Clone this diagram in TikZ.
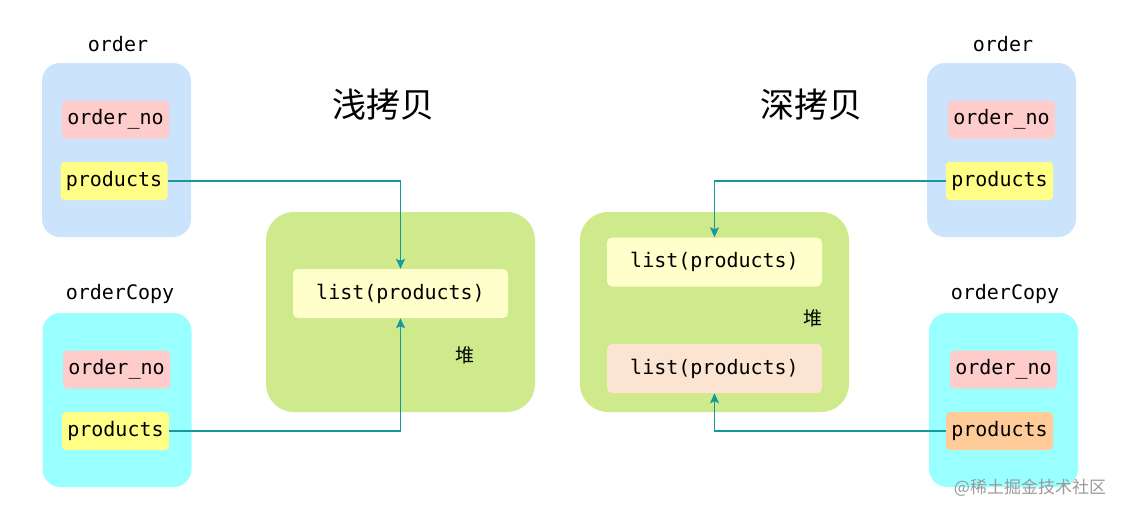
\documentclass[tikz,border=0pt]{standalone}
\usepackage{fontspec}
\setmonofont{DejaVu Sans Mono}
\newfontfamily\cjk{Noto Sans CJK SC}
\usetikzlibrary{arrows.meta}

\definecolor{objblue}{HTML}{CCE4FB}
\definecolor{objcyan}{HTML}{99FFFF}
\definecolor{fieldpink}{HTML}{FFCCCC}
\definecolor{fieldyellow}{HTML}{FFFF88}
\definecolor{fieldorange}{HTML}{FFCC99}
\definecolor{heapgreen}{HTML}{CFE98D}
\definecolor{listyellow}{HTML}{FFFFCC}
\definecolor{listpeach}{HTML}{FCE4D2}
\definecolor{reflink}{HTML}{17999A}

\tikzset{
  objbox/.style={rounded corners=18pt, minimum width=149pt, minimum height=174pt, inner sep=0pt},
  heapbox/.style={fill=heapgreen, rounded corners=28pt, minimum width=269pt, minimum height=200pt, inner sep=0pt},
  field/.style={rounded corners=4pt, minimum width=107pt, minimum height=38pt, inner sep=0pt,
    font=\ttfamily\fontsize{20}{24}\selectfont},
  listbox/.style={rounded corners=5pt, minimum width=215pt, minimum height=49pt, inner sep=0pt,
    font=\ttfamily\fontsize{20}{24}\selectfont},
  objname/.style={font=\ttfamily\fontsize{20}{24}\selectfont},
  title/.style={font=\cjk\fontsize{34}{40}\selectfont},
  heapname/.style={font=\cjk\fontsize{19}{22}\selectfont},
  ref/.style={draw=reflink, line width=1.2pt, -{Stealth[length=10pt, width=9pt, inset=2pt]}}
}

\begin{document}
\begin{tikzpicture}[x=1pt, y=-1pt]
	 \useasboundingbox (0,0) rectangle (1127,515);
	 % shallow copy
	 \node[title] (shallow) at (383,105) {浅拷贝};
	 \node[objname] (order1) at (118,44) {order};
	 \node[objbox, fill=objblue] (obj1) at (116.5,150) {};
	 \node[field, fill=fieldpink] (no1) at (115.5,119.5) {order\_no};
	 \node[field, fill=fieldyellow] (prod1) at (114,181) {products};
	 \node[objname] (copy1) at (120,294) {orderCopy};
	 \node[objbox, fill=objcyan] (obj2) at (117,400) {};
	 \node[field, fill=fieldpink] (no2) at (116.5,369.5) {order\_no};
	 \node[field, fill=fieldyellow] (prod2) at (115.5,431) {products};
	 \node[heapbox] (heap1) at (400.5,312) {};
	 \node[listbox, fill=listyellow] (list1) at (400.5,293.5) {list(products)};
	 \node[heapname] (dui1) at (465,355) {堆};
	 \draw[ref] (prod1.east) -| (list1.north);
	 \draw[ref] (prod2.east) -| (list1.south);
	 % deep copy
	 \node[title] (deep) at (811,105) {深拷贝};
	 \node[objname] (order2) at (1003,44) {order};
	 \node[objbox, fill=objblue] (obj3) at (1001.5,150) {};
	 \node[field, fill=fieldpink] (no3) at (1001.5,119.5) {order\_no};
	 \node[field, fill=fieldyellow] (prod3) at (999.5,181) {products};
	 \node[objname] (copy2) at (1005,294) {orderCopy};
	 \node[objbox, fill=objcyan] (obj4) at (1003.5,400) {};
	 \node[field, fill=fieldpink] (no4) at (1003.5,369.5) {order\_no};
	 \node[field, fill=fieldorange] (prod4) at (999.5,431) {products};
	 \node[heapbox] (heap2) at (714.5,312) {};
	 \node[listbox, fill=listyellow] (list2) at (714.5,262) {list(products)};
	 \node[listbox, fill=listpeach] (list3) at (714.5,368.5) {list(products)};
	 \node[heapname] (dui2) at (813,318) {堆};
	 \draw[ref] (prod3.west) -| (list2.north);
	 \draw[ref] (prod4.west) -| (list3.south);
	 \node[font=\cjk\fontsize{17}{20}\selectfont, text=black!40] (mark) at (1030,488) {@稀土掘金技术社区};
\end{tikzpicture}
\end{document}
